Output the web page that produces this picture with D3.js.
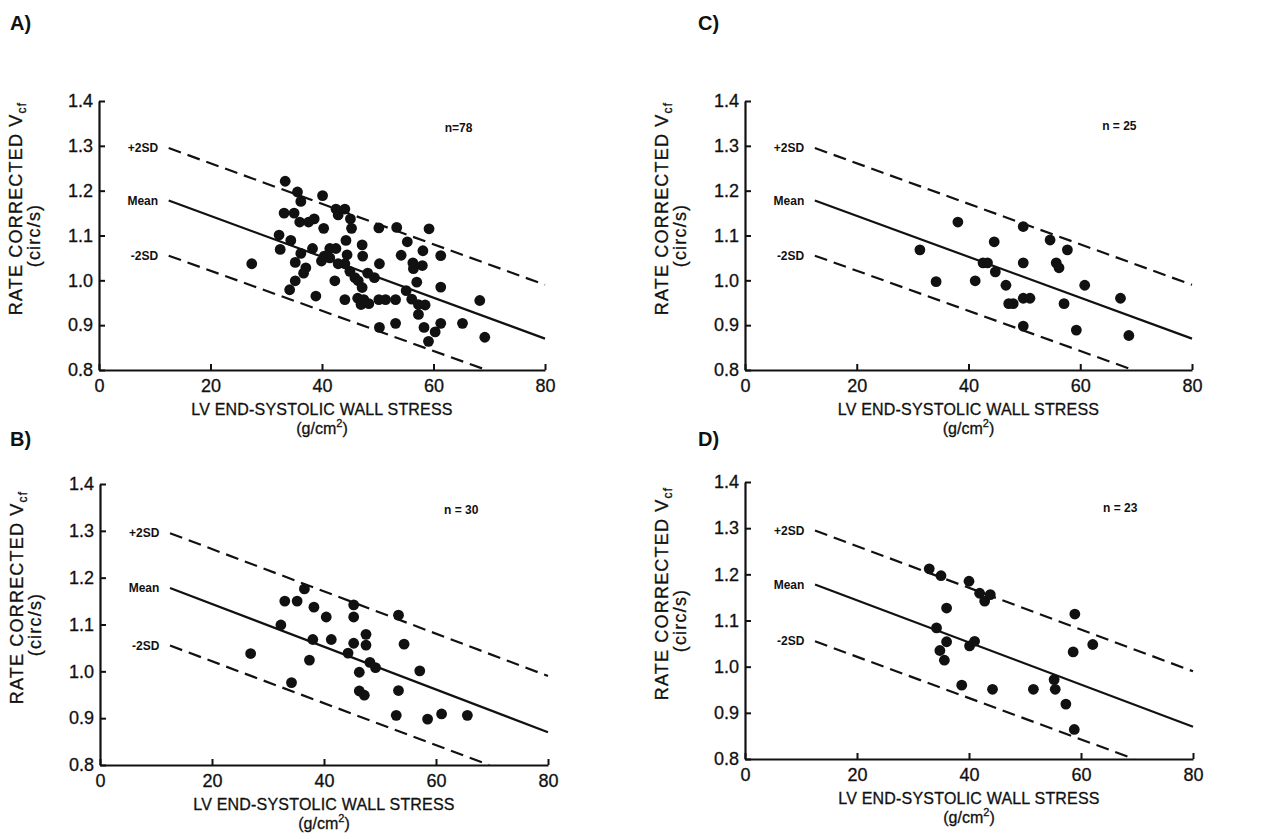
<!DOCTYPE html>
<html>
<head>
<meta charset="utf-8">
<script src="https://cdn.jsdelivr.net/npm/d3@7"></script>
<style>
  body { margin: 0; background: #fff; }
  svg { display: block; }
  text { font-family: "Liberation Sans", Arial, Helvetica, sans-serif; fill: #111; }
</style>
</head>
<body>
<svg id="chart"></svg>
<script>
/* ---------------------------
   Data
--------------------------- */
const xTicks = [0, 20, 40, 60, 80];
const yTicks = [0.8, 0.9, 1.0, 1.1, 1.2, 1.3, 1.4];

// reference lines (start / end points)
const plus2SD = [[12.5, 1.295], [80, 0.99]];
const meanLine = [[12.5, 1.178], [80, 0.87]];
const minus2SD = [[12.5, 1.055], [69.5, 0.80]];

const dotsA = [
  [33.4, 1.221], [35.6, 1.197], [36.2, 1.176], [40.1, 1.189], [33.2, 1.150], [35.0, 1.150],
  [36.0, 1.130], [37.6, 1.130], [38.6, 1.137], [40.3, 1.116], [42.5, 1.159], [42.9, 1.146],
  [44.1, 1.159], [45.1, 1.137], [45.3, 1.116], [32.3, 1.101], [34.4, 1.089], [32.5, 1.069],
  [36.2, 1.060], [38.3, 1.071], [35.2, 1.040], [37.1, 1.028], [36.7, 1.016], [35.2, 0.999],
  [34.2, 0.979], [38.9, 0.965], [39.9, 1.043], [40.4, 1.054], [41.4, 1.071], [42.5, 1.071],
  [41.4, 1.050], [42.9, 1.037], [42.3, 0.999], [44.3, 1.089], [44.5, 1.057], [44.1, 1.037],
  [45.0, 1.020], [45.9, 1.006], [47.2, 1.079], [47.3, 1.054], [46.5, 0.999], [47.2, 0.984],
  [48.2, 1.016], [49.4, 1.006], [50.3, 1.037], [50.2, 1.117], [44.1, 0.957], [46.4, 0.960],
  [47.5, 0.957], [47.0, 0.946], [48.4, 0.948], [50.2, 0.957], [51.4, 0.957], [53.2, 0.957],
  [53.4, 1.118], [55.3, 1.086], [54.2, 1.056], [56.3, 1.039], [56.4, 1.026], [58.1, 1.066],
  [58.0, 1.033], [57.0, 0.996], [55.1, 0.977], [56.1, 0.958], [57.3, 0.946], [58.5, 0.945],
  [57.3, 0.924], [59.2, 1.115], [61.3, 1.055], [61.3, 0.985], [68.3, 0.955], [50.3, 0.895],
  [53.2, 0.904], [58.3, 0.895], [60.3, 0.885], [61.3, 0.904], [59.1, 0.864], [65.2, 0.904],
  [69.2, 0.873], [27.4, 1.037]
];

const dotsB = [
  [26.9, 1.038], [32.3, 1.099], [33.0, 1.150], [35.2, 1.150], [36.5, 1.176], [38.2, 1.137],
  [40.4, 1.116], [38.0, 1.068], [41.3, 1.068], [37.4, 1.024], [34.2, 0.976], [45.3, 1.142],
  [45.3, 1.116], [47.5, 1.079], [45.3, 1.060], [47.5, 1.056], [44.3, 1.039], [48.2, 1.019],
  [49.2, 1.008], [46.3, 0.998], [46.3, 0.958], [47.2, 0.949], [53.3, 1.120], [54.3, 1.058],
  [57.1, 1.001], [53.3, 0.959], [52.9, 0.906], [58.5, 0.898], [61.0, 0.909], [65.6, 0.906]
];

const dotsC = [
  [31.3, 1.068], [34.2, 0.997], [38.1, 1.130], [41.2, 0.999], [42.6, 1.039], [43.4, 1.039],
  [44.6, 1.086], [44.8, 1.019], [46.7, 0.989], [47.2, 0.948], [48.0, 0.948], [49.8, 1.120],
  [49.8, 1.039], [49.8, 0.960], [51.0, 0.960], [49.8, 0.898], [54.6, 1.090], [55.7, 1.039],
  [56.2, 1.028], [57.7, 1.068], [57.1, 0.948], [60.8, 0.989], [59.3, 0.889], [67.2, 0.960],
  [68.7, 0.877]
];

const dotsD = [
  [32.9, 1.212], [35.0, 1.197], [40.0, 1.185], [41.9, 1.159], [42.8, 1.142], [43.8, 1.156],
  [36.0, 1.127], [34.2, 1.084], [36.0, 1.054], [34.8, 1.035], [35.6, 1.014], [40.1, 1.045],
  [41.0, 1.055], [38.7, 0.960], [44.2, 0.951], [51.5, 0.951], [55.2, 0.972], [55.4, 0.951],
  [57.3, 0.919], [58.9, 1.114], [58.6, 1.032], [62.1, 1.048], [58.8, 0.864]
];

const panelLetters = ["A)", "B)", "C)", "D)"];
const panelCounts = ["n=78", "n = 30", "n = 25", "n = 23"];
const panelDots = [dotsA, dotsB, dotsC, dotsD];
const countPos = [[64.5, 1.34], [64.5, 1.345], [67, 1.345], [67, 1.345]];

/* ---------------------------
   Layout
--------------------------- */
const width = 1261, height = 839;
const boxes = [
  { left: 99, right: 545, top: 101, bottom: 370, letterX: 10, letterY: 30 },
  { left: 100, right: 548, top: 484, bottom: 765, letterX: 10, letterY: 446 },
  { left: 745, right: 1192, top: 101, bottom: 370, letterX: 698, letterY: 30 },
  { left: 745, right: 1193, top: 482, bottom: 759, letterX: 698, letterY: 446 }
];

const svg = d3.select("#chart")
  .attr("width", width)
  .attr("height", height);

svg.append("rect").attr("width", width).attr("height", height).attr("fill", "#fff");

boxes.forEach((b, i) => {
  const x = d3.scaleLinear().domain([0, 80]).range([b.left, b.right]);
  const y = d3.scaleLinear().domain([0.8, 1.4]).range([b.bottom, b.top]);
  const g = svg.append("g");

  /* panel letter */
  g.append("text")
    .attr("x", b.letterX).attr("y", b.letterY)
    .attr("font-size", 20).attr("font-weight", "bold")
    .text(panelLetters[i]);

  /* axes */
  const xAxis = d3.axisBottom(x).tickValues(xTicks).tickSizeInner(-6).tickSizeOuter(0).tickPadding(9);
  const yAxis = d3.axisLeft(y).tickValues(yTicks).tickSizeInner(-6).tickSizeOuter(0)
    .tickPadding(6).tickFormat(d3.format(".1f"));

  const gx = g.append("g").attr("transform", `translate(0,${b.bottom})`).call(xAxis);
  const gy = g.append("g").attr("transform", `translate(${b.left},0)`).call(yAxis);

  [gx, gy].forEach(a => {
    a.select(".domain").attr("stroke", "#111").attr("stroke-width", 2.2);
    a.selectAll(".tick line").attr("stroke", "#111").attr("stroke-width", 2);
    a.selectAll(".tick text").attr("font-size", 18).attr("fill", "#111")
      .attr("stroke", "#111").attr("stroke-width", 0.3)
      .attr("font-family", "\"Liberation Sans\", Arial, sans-serif");
  });
  gx.selectAll(".tick text").attr("dy", "0.71em");

  /* axis titles */
  g.append("text")
    .attr("x", (b.left + b.right) / 2).attr("y", b.bottom + 45)
    .attr("text-anchor", "middle").attr("font-size", 16).attr("letter-spacing", 0.2)
    .attr("stroke", "#111").attr("stroke-width", 0.3)
    .text("LV END-SYSTOLIC WALL STRESS");

  const gcm = g.append("text")
    .attr("x", (b.left + b.right) / 2).attr("y", b.bottom + 64)
    .attr("text-anchor", "middle").attr("font-size", 16)
    .attr("stroke", "#111").attr("stroke-width", 0.3);
  gcm.append("tspan").text("(g/cm");
  gcm.append("tspan").attr("font-size", 11).attr("dy", -7).text("2");
  gcm.append("tspan").attr("dy", 7).text(")");

  const cy = (b.top + b.bottom) / 2;
  const yl = g.append("text")
    .attr("transform", `translate(${b.left - 77},${cy - 27}) rotate(-90)`)
    .attr("text-anchor", "middle").attr("font-size", 18).attr("letter-spacing", 1.2)
    .attr("stroke", "#111").attr("stroke-width", 0.3);
  yl.append("tspan").text("RATE CORRECTED V");
  yl.append("tspan").attr("font-size", 12).attr("dy", 4).text("cf");

  g.append("text")
    .attr("transform", `translate(${b.left - 59},${cy}) rotate(-90)`)
    .attr("text-anchor", "middle").attr("font-size", 18).attr("letter-spacing", 1.2)
    .attr("stroke", "#111").attr("stroke-width", 0.3)
    .text("(circ/s)");

  /* reference lines */
  const line = d3.line().x(d => x(d[0])).y(d => y(d[1]));
  g.append("path").attr("d", line(plus2SD))
    .attr("fill", "none").attr("stroke", "#111").attr("stroke-width", 2.2).attr("stroke-dasharray", "13,7");
  g.append("path").attr("d", line(meanLine))
    .attr("fill", "none").attr("stroke", "#111").attr("stroke-width", 2.2);
  g.append("path").attr("d", line(minus2SD))
    .attr("fill", "none").attr("stroke", "#111").attr("stroke-width", 2.2).attr("stroke-dasharray", "13,7");

  [["+2SD", plus2SD], ["Mean", meanLine], ["-2SD", minus2SD]].forEach(([lab, pts]) => {
    g.append("text")
      .attr("x", x(10.6)).attr("y", y(pts[0][1]))
      .attr("dy", "0.35em").attr("text-anchor", "end")
      .attr("font-size", 12).attr("font-weight", "bold")
      .text(lab);
  });

  /* n label */
  g.append("text")
    .attr("x", x(countPos[i][0])).attr("y", y(countPos[i][1]))
    .attr("dy", "0.35em").attr("text-anchor", "middle")
    .attr("font-size", 12).attr("font-weight", "bold")
    .text(panelCounts[i]);

  /* dots */
  g.selectAll("circle")
    .data(panelDots[i])
    .enter()
    .append("circle")
    .attr("cx", d => x(d[0]))
    .attr("cy", d => y(d[1]))
    .attr("r", 5.4)
    .attr("fill", "#111");
});
</script>
</body>
</html>
